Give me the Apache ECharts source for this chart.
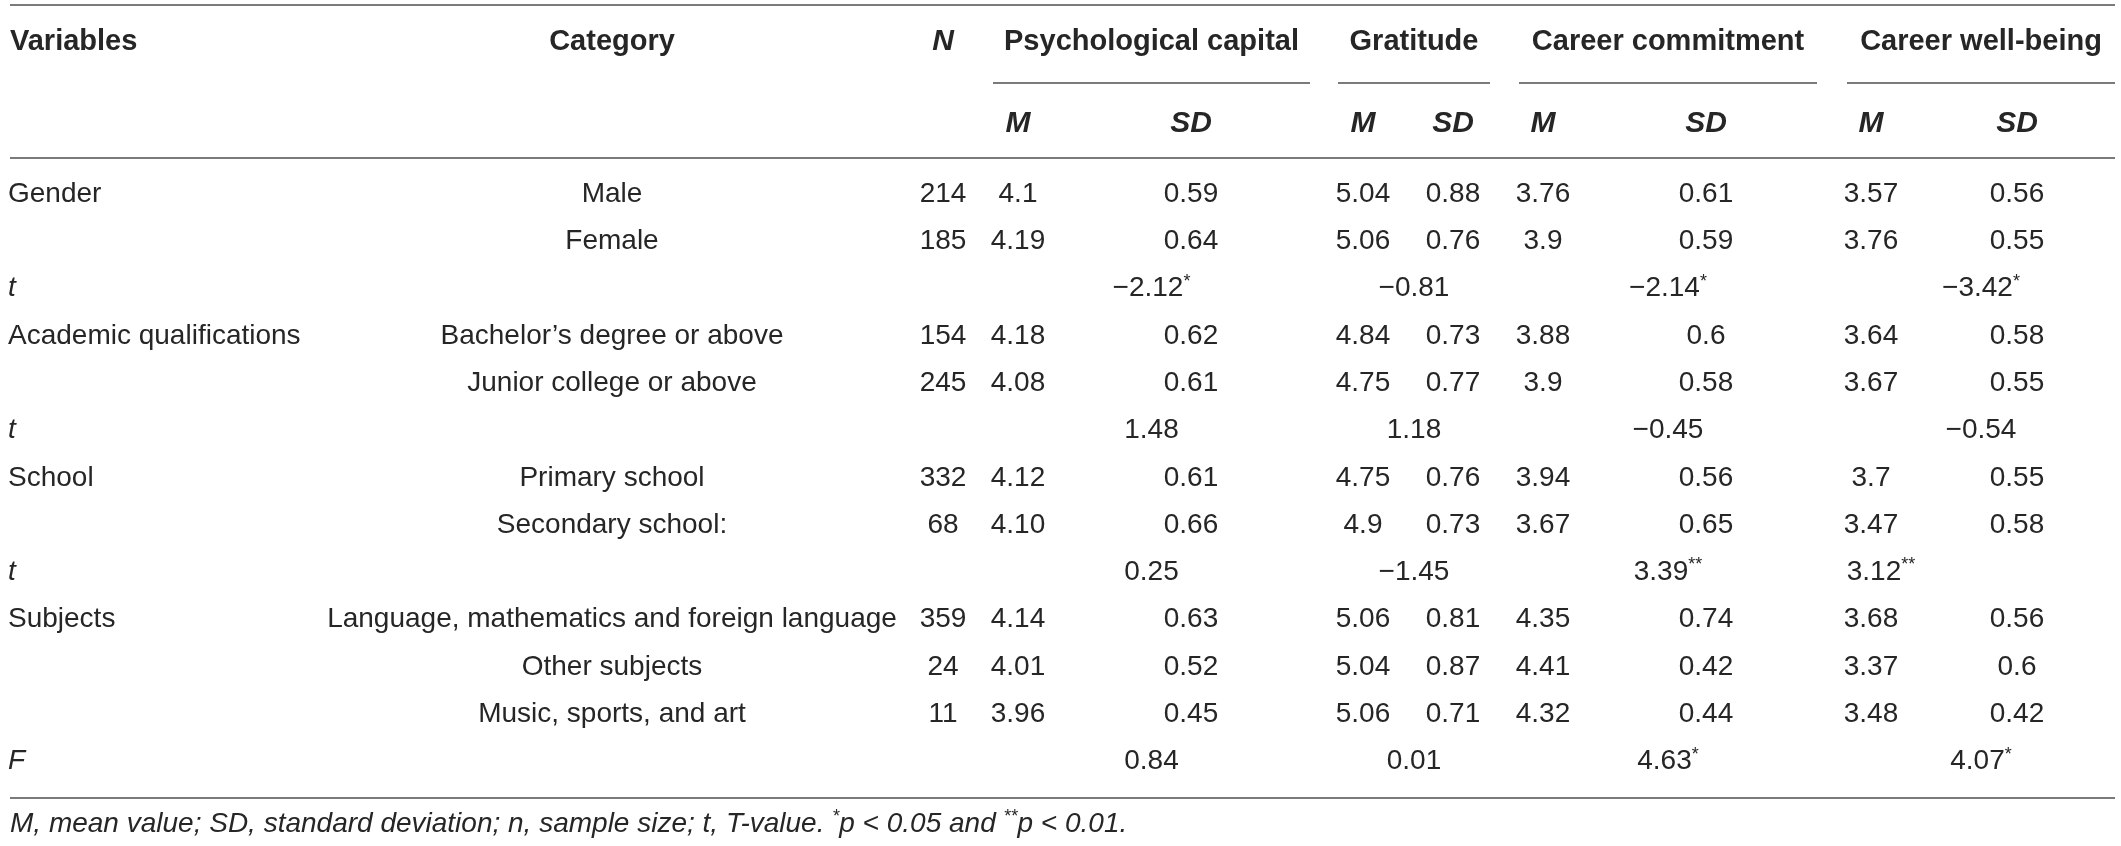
<!DOCTYPE html>
<html>
<head>
<meta charset="utf-8">
<script src="https://cdn.jsdelivr.net/npm/echarts@6.0.0/dist/echarts.min.js"></script>
<style>
  html, body { margin: 0; padding: 0; background: #fff; }
  #main { width: 2121px; height: 846px; }
</style>
</head>
<body>
<div id="main"></div>
<script>
// table rows (13 rows: group rows plus t / F rows)
var rowVariable = ['Gender', '', 't', 'Academic qualifications', '', 't', 'School', '', 't', 'Subjects', '', '', 'F'];
var rowCategory = ['Male', 'Female', '', 'Bachelor\u2019s degree or above', 'Junior college or above', '',
  'Primary school', 'Secondary school:', '', 'Language, mathematics and foreign language', 'Other subjects', 'Music, sports, and art', ''];
var sampleN = ['214', '185', '', '154', '245', '', '332', '68', '', '359', '24', '11', ''];

var psyCapM = ['4.1', '4.19', '', '4.18', '4.08', '', '4.12', '4.10', '', '4.14', '4.01', '3.96', ''];
var psyCapSD = ['0.59', '0.64', '', '0.62', '0.61', '', '0.61', '0.66', '', '0.63', '0.52', '0.45', ''];
var gratitudeM = ['5.04', '5.06', '', '4.84', '4.75', '', '4.75', '4.9', '', '5.06', '5.04', '5.06', ''];
var gratitudeSD = ['0.88', '0.76', '', '0.73', '0.77', '', '0.76', '0.73', '', '0.81', '0.87', '0.71', ''];
var commitmentM = ['3.76', '3.9', '', '3.88', '3.9', '', '3.94', '3.67', '', '4.35', '4.41', '4.32', ''];
var commitmentSD = ['0.61', '0.59', '', '0.6', '0.58', '', '0.56', '0.65', '', '0.74', '0.42', '0.44', ''];
var wellBeingM = ['3.57', '3.76', '', '3.64', '3.67', '', '3.7', '3.47', '', '3.68', '3.37', '3.48', ''];
var wellBeingSD = ['0.56', '0.55', '', '0.58', '0.55', '', '0.55', '0.58', '', '0.56', '0.6', '0.42', ''];

// test statistics (t, t, t, F)
var testRows = [2, 5, 8, 12];
var psyCapTest = ['\u22122.12*', '1.48', '0.25', '0.84'];
var gratitudeTest = ['\u22120.81', '1.18', '\u22121.45', '0.01'];
var commitmentTest = ['\u22122.14*', '\u22120.45', '3.39**', '4.63*'];
var wellBeingTest = ['\u22123.42*', '\u22120.54', '3.12**', '4.07*'];

var measureNames = ['Psychological capital', 'Gratitude', 'Career commitment', 'Career well-being'];
var footNote = 'M, mean value; SD, standard deviation; n, sample size; t, T-value. *p < 0.05 and **p < 0.01.';

// layout
var W = 2121, H = 846;
var ROW0 = 194, ROW_STEP = 47.3;
var LEFT = 10, RIGHT = 2115;
var X_VAR = 8, X_CAT = 612, X_N = 943;
var measureCols = [
  { m: 1018, sd: 1191, from: 993, to: 1310 },
  { m: 1363, sd: 1453, from: 1338, to: 1490 },
  { m: 1543, sd: 1706, from: 1519, to: 1817 },
  { m: 1871, sd: 2017, from: 1847, to: 2115 }
];
var FONT = '"Liberation Sans", Arial, Helvetica, sans-serif';
var TEXT_COLOR = '#262626';
var RULE_COLOR = '#7a7a7a';

var measures = [
  [psyCapM, psyCapSD, psyCapTest],
  [gratitudeM, gratitudeSD, gratitudeTest],
  [commitmentM, commitmentSD, commitmentTest],
  [wellBeingM, wellBeingSD, wellBeingTest]
];

// cells: [x, y, text, kind, align]
var cells = [];
function rowY(i) { return ROW0 + ROW_STEP * i; }

cells.push([LEFT, 42, 'Variables', 'head', 'left']);
cells.push([X_CAT, 42, 'Category', 'head', 'center']);
cells.push([X_N, 42, 'N', 'headItalic', 'center']);
measureCols.forEach(function (c, k) {
  cells.push([(c.from + c.to) / 2, 42, measureNames[k], 'head', 'center']);
  cells.push([c.m, 124, 'M', 'headItalic', 'center']);
  cells.push([c.sd, 124, 'SD', 'headItalic', 'center']);
});

rowVariable.forEach(function (v, i) {
  if (v) cells.push([X_VAR, rowY(i), v, (v === 't' || v === 'F') ? 'italic' : 'body', 'left']);
  if (rowCategory[i]) cells.push([X_CAT, rowY(i), rowCategory[i], 'body', 'center']);
  if (sampleN[i]) cells.push([X_N, rowY(i), sampleN[i], 'body', 'center']);
  measures.forEach(function (ms, k) {
    if (ms[0][i]) cells.push([measureCols[k].m, rowY(i), ms[0][i], 'body', 'center']);
    if (ms[1][i]) cells.push([measureCols[k].sd, rowY(i), ms[1][i], 'body', 'center']);
  });
});

testRows.forEach(function (r, j) {
  measures.forEach(function (ms, k) {
    var c = measureCols[k];
    var x = (c.from + c.to) / 2;
    // the school t value for well-being sits under the M column in the source
    if (k === 3 && j === 2) x = c.m + 10;
    cells.push([x, rowY(r), ms[2][j], 'body', 'center']);
  });
});

cells.push([LEFT, 824, footNote, 'italic', 'left']);

// rules: [x1, y, x2]
var rules = [[LEFT, 5, RIGHT], [LEFT, 158, RIGHT], [LEFT, 798, RIGHT]];
measureCols.forEach(function (c) { rules.push([c.from, 83, c.to]); });

var kindStyle = {
  body: { fontSize: 28, fontWeight: 'normal', fontStyle: 'normal' },
  italic: { fontSize: 28, fontWeight: 'normal', fontStyle: 'italic' },
  head: { fontSize: 29, fontWeight: 'bold', fontStyle: 'normal' },
  headItalic: { fontSize: 30, fontWeight: 'bold', fontStyle: 'italic' }
};

function toRich(str) {
  return str.split(/(\*+)/).filter(function (s) { return s.length; }).map(function (s) {
    return s.charAt(0) === '*' ? '{s|' + s + '}' : '{b|' + s + '}';
  }).join('');
}

function richFor(kind) {
  var ks = kindStyle[kind];
  return {
    b: { fontSize: ks.fontSize, fontWeight: ks.fontWeight, fontStyle: ks.fontStyle, fontFamily: FONT, fill: TEXT_COLOR, lineHeight: 32 },
    s: { fontSize: 18, fontWeight: ks.fontWeight, fontStyle: ks.fontStyle, fontFamily: FONT, fill: TEXT_COLOR, lineHeight: 20, verticalAlign: 'top' }
  };
}

var chart = echarts.init(document.getElementById('main'), null, { renderer: 'canvas' });

chart.setOption({
  animation: false,
  backgroundColor: '#ffffff',
  grid: { left: 0, right: 0, top: 0, bottom: 0 },
  xAxis: { type: 'value', min: 0, max: W, show: false },
  yAxis: { type: 'value', min: 0, max: H, inverse: true, show: false },
  series: [
    {
      type: 'custom',
      name: 'rules',
      clip: false,
      silent: true,
      data: rules.map(function (r) { return [r[0], r[1], r[2]]; }),
      renderItem: function (params, api) {
        var a = api.coord([api.value(0), api.value(1)]);
        var b = api.coord([api.value(2), api.value(1)]);
        return {
          type: 'line',
          shape: { x1: a[0], y1: a[1], x2: b[0], y2: b[1] },
          style: { stroke: RULE_COLOR, lineWidth: 2 }
        };
      }
    },
    {
      type: 'custom',
      name: 'cells',
      clip: false,
      silent: true,
      data: cells.map(function (c) { return [c[0], c[1]]; }),
      renderItem: function (params, api) {
        var c = cells[params.dataIndex];
        var p = api.coord([api.value(0), api.value(1)]);
        return {
          type: 'text',
          style: {
            x: p[0],
            y: p[1],
            text: toRich(c[2]),
            rich: richFor(c[3]),
            align: c[4],
            verticalAlign: 'middle'
          }
        };
      }
    }
  ]
});
</script>
</body>
</html>
